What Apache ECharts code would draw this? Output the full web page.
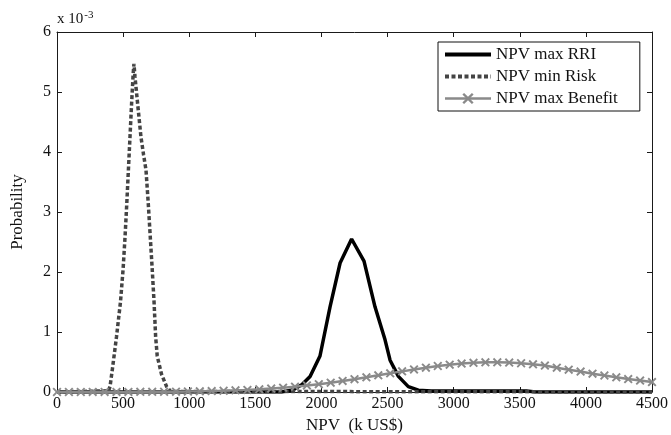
<!DOCTYPE html>
<html>
<head>
<meta charset="utf-8">
<script src="https://cdn.jsdelivr.net/npm/echarts@6/dist/echarts.min.js"></script>
<style>html,body{margin:0;padding:0;background:#fff}#c{width:671px;height:435px}</style>
</head>
<body>
<div id="c"></div>
<script>
// values in units of 1e-3
const seriesNames = ['NPV max RRI', 'NPV min Risk', 'NPV max Benefit'];
const xTicks = [0, 500, 1000, 1500, 2000, 2500, 3000, 3500, 4000, 4500];
const yTicks = [0, 1, 2, 3, 4, 5, 6];

const rriX = [0, 1700, 1790, 1851, 1914, 1989, 2065, 2141, 2228, 2322, 2405, 2481, 2519, 2582, 2657, 2733, 2830, 3550, 3620, 4500];
const rriY = [0, 0, 0.04, 0.12, 0.26, 0.6, 1.42, 2.15, 2.55, 2.18, 1.42, 0.87, 0.53, 0.26, 0.09, 0.03, 0.015, 0.015, 0, 0];

const riskX = [0, 390, 401, 420, 450, 480, 500, 515, 528, 540, 552, 564, 576, 582, 590, 610, 635, 655, 673, 690, 705, 720, 734, 746, 758, 790, 829, 860, 4500];
const riskY = [0, 0.02, 0.09, 0.4, 0.92, 1.5, 2.05, 2.6, 3.15, 3.7, 4.25, 4.8, 5.3, 5.47, 5.25, 4.8, 4.25, 3.95, 3.7, 3.15, 2.6, 2.05, 1.5, 0.92, 0.6, 0.3, 0.09, 0.01, 0];

const benefitX = [0, 90, 180, 270, 360, 450, 540, 630, 720, 810, 900, 990, 1080, 1170, 1260, 1350, 1440, 1530, 1620, 1710, 1800, 1890, 1980, 2070, 2160, 2250, 2340, 2430, 2520, 2610, 2700, 2790, 2880, 2970, 3060, 3150, 3240, 3330, 3420, 3510, 3600, 3690, 3780, 3870, 3960, 4050, 4140, 4230, 4320, 4410, 4500];
const benefitY = [0.0001, 0.0002, 0.0003, 0.0005, 0.0007, 0.001, 0.0015, 0.0022, 0.0031, 0.0044, 0.0061, 0.0085, 0.0115, 0.0156, 0.0208, 0.0272, 0.0354, 0.0454, 0.0577, 0.072, 0.089, 0.109, 0.131, 0.156, 0.184, 0.214, 0.245, 0.278, 0.311, 0.344, 0.376, 0.406, 0.433, 0.456, 0.474, 0.487, 0.494, 0.495, 0.49, 0.479, 0.462, 0.44, 0.405, 0.372, 0.34, 0.305, 0.275, 0.245, 0.215, 0.19, 0.165];

function pairs(xs, ys) { return xs.map((x, i) => [x, ys[i]]); }

const FONT = 'Liberation Serif';
const AX = '#1a1a1a';
const crossPath = 'path://M1.5,0L5,3.5L8.5,0L10,1.5L6.5,5L10,8.5L8.5,10L5,6.5L1.5,10L0,8.5L3.5,5L0,1.5Z';

const chart = echarts.init(document.getElementById('c'), null, {renderer: 'canvas'});
const baseX = {
  type: 'value', min: xTicks[0], max: xTicks[xTicks.length - 1], interval: 500,
  axisLine: {show: true, onZero: false, lineStyle: {color: AX, width: 1}},
  axisTick: {show: true, inside: true, length: 5, lineStyle: {color: AX}},
  splitLine: {show: false}
};
const baseY = {
  type: 'value', min: yTicks[0], max: yTicks[yTicks.length - 1], interval: 1,
  axisLine: {show: true, onZero: false, lineStyle: {color: AX, width: 1}},
  axisTick: {show: true, inside: true, length: 5, lineStyle: {color: AX}},
  splitLine: {show: false}
};
chart.setOption({
  animation: false,
  backgroundColor: '#fff',
  textStyle: {fontFamily: FONT},
  grid: {left: 57, top: 32, width: 595, height: 360, containLabel: false, outerBoundsMode: 'none'},
  xAxis: [
    Object.assign({}, baseX, {
      position: 'bottom',
      axisLabel: {show: true, color: '#111', fontFamily: FONT, fontSize: 16, margin: 4, formatter: v => String(v)},
      name: 'NPV  (k US$)', nameLocation: 'middle', nameGap: 21,
      nameTextStyle: {color: '#111', fontFamily: FONT, fontSize: 17}
    }),
    Object.assign({}, baseX, {position: 'top', axisLabel: {show: false}})
  ],
  yAxis: [
    Object.assign({}, baseY, {
      position: 'left',
      axisLabel: {show: true, color: '#111', fontFamily: FONT, fontSize: 16, margin: 6},
      name: 'Probability', nameLocation: 'middle', nameGap: 31, nameRotate: 90,
      nameTextStyle: {color: '#111', fontFamily: FONT, fontSize: 17}
    }),
    Object.assign({}, baseY, {position: 'right', axisLabel: {show: false}})
  ],
  legend: {
    left: 438, top: 42, orient: 'vertical',
    data: [
      {name: seriesNames[0], itemStyle: {opacity: 0}, lineStyle: {width: 4}},
      {name: seriesNames[1], itemStyle: {opacity: 0}, lineStyle: {width: 4}},
      {name: seriesNames[2], lineStyle: {width: 2.5}}
    ],
    itemWidth: 46, itemHeight: 14, itemGap: 5,
    padding: [4, 22, 4, 5],
    borderColor: '#111', borderWidth: 1, backgroundColor: '#fff',
    textStyle: {color: '#111', fontFamily: FONT, fontSize: 17}
  },
  graphic: [{
    type: 'text', left: 57, top: 10,
    style: {
      text: '{a|x 10}{b|-3}',
      rich: {
        a: {fontFamily: FONT, fontSize: 15, fill: '#111', verticalAlign: 'bottom', lineHeight: 17},
        b: {fontFamily: FONT, fontSize: 11, fill: '#111', verticalAlign: 'top', lineHeight: 17, padding: [0, 0, 9, 1]}
      }
    }
  }],
  series: [
    {
      name: seriesNames[0], type: 'line', data: pairs(rriX, rriY),
      symbol: 'none', xAxisIndex: 0, yAxisIndex: 0,
      lineStyle: {color: '#000', width: 3.5}, itemStyle: {color: '#000'}
    },
    {
      name: seriesNames[1], type: 'line', data: pairs(riskX, riskY),
      symbol: 'none', xAxisIndex: 0, yAxisIndex: 0,
      lineStyle: {color: '#444', width: 3.5, type: [4, 2.5]}, itemStyle: {color: '#444'}
    },
    {
      name: seriesNames[2], type: 'line', data: pairs(benefitX, benefitY),
      symbol: crossPath, symbolSize: 9, showSymbol: true, xAxisIndex: 0, yAxisIndex: 0,
      lineStyle: {color: '#8a8a8a', width: 2.5}, itemStyle: {color: '#8a8a8a'}
    }
  ]
});
</script>
</body>
</html>
